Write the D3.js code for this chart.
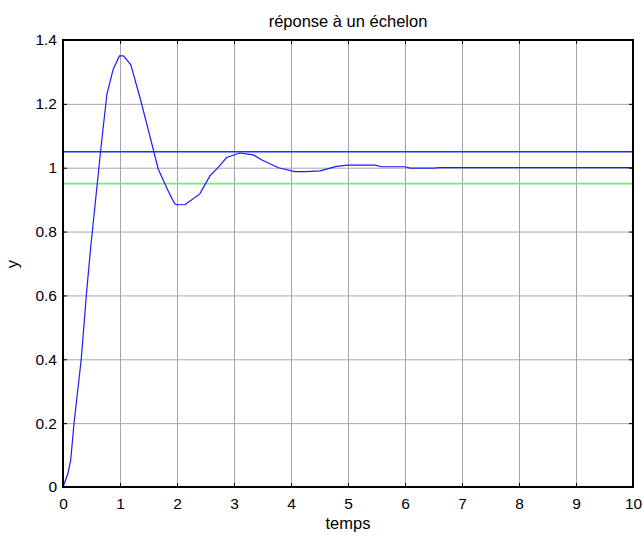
<!DOCTYPE html>
<html>
<head>
<meta charset="utf-8">
<script src="https://cdn.jsdelivr.net/npm/d3@7"></script>
<style>
  body { margin: 0; background: #fff; }
  svg text { font-family: "Liberation Sans", Arial, sans-serif; fill: #000; }
</style>
</head>
<body>
<div id="chart"></div>
<script>
// size of the page and the axes box
const width = 644;
const height = 537;
const margin = {left: 63, right: 11, top: 40, bottom: 50};

// step response
const times = [0, 0.088, 0.135, 0.193, 0.32, 0.41, 0.48, 0.66, 0.77, 0.88, 0.99, 1.06, 1.19, 1.35, 1.5, 1.67,
  1.87, 1.96, 2.0, 2.14, 2.4, 2.58, 2.72, 2.87, 3.1, 3.34, 3.49, 3.78, 4.07, 4.27, 4.51, 4.8, 5.0,
  5.47, 5.59, 6.0, 6.09, 6.5, 6.61, 10];
const response = [0, 0.043, 0.084, 0.199, 0.4, 0.602, 0.74, 1.053, 1.23, 1.308, 1.35, 1.35, 1.322, 1.22, 1.116, 0.996,
  0.918, 0.887, 0.884, 0.884, 0.918, 0.975, 1.0, 1.032, 1.046, 1.04, 1.024, 1.0, 0.9875, 0.9875, 0.99, 1.004, 1.008,
  1.008, 1.003, 1.003, 0.999, 0.999, 1.0, 1.0];

// tolerance band +/- 5%
const upperBand = 1.05;
const lowerBand = 0.95;

// tick labels
const xTicks = [0, 1, 2, 3, 4, 5, 6, 7, 8, 9, 10];
const yTicks = [0, 0.2, 0.4, 0.6, 0.8, 1, 1.2, 1.4];

const svg = d3.select("#chart")
  .append("svg")
  .attr("width", width)
  .attr("height", height);

const x = d3.scaleLinear()
  .domain([0, 10])
  .range([margin.left, width - margin.right]);

const y = d3.scaleLinear()
  .domain([0, 1.4])
  .range([height - margin.bottom, margin.top]);

const fmt = d => String(+d.toFixed(1));

// grid lines
svg.append("g")
  .attr("transform", `translate(0,${height - margin.bottom})`)
  .call(d3.axisBottom(x).tickValues(xTicks).tickSize(-(height - margin.top - margin.bottom)).tickFormat(""))
  .call(g => g.select(".domain").remove())
  .call(g => g.selectAll("line").attr("stroke", "#a6a6a6"));

svg.append("g")
  .attr("transform", `translate(${margin.left},0)`)
  .call(d3.axisLeft(y).tickValues(yTicks).tickSize(-(width - margin.left - margin.right)).tickFormat(""))
  .call(g => g.select(".domain").remove())
  .call(g => g.selectAll("line").attr("stroke", "#a6a6a6"));

// lines
svg.append("line")
  .attr("x1", x(0)).attr("x2", x(10))
  .attr("y1", y(upperBand)).attr("y2", y(upperBand))
  .attr("stroke", "#0a3cf0")
  .attr("stroke-width", 1.6);

svg.append("line")
  .attr("x1", x(0)).attr("x2", x(10))
  .attr("y1", y(lowerBand)).attr("y2", y(lowerBand))
  .attr("stroke", "#6ef06e")
  .attr("stroke-width", 1.8);

const line = d3.line()
  .x((d, i) => x(times[i]))
  .y(d => y(d));

svg.append("path")
  .datum(response)
  .attr("fill", "none")
  .attr("stroke", "#1a1aff")
  .attr("stroke-width", 1.2)
  .attr("d", line);

// axes with inward ticks on all four sides
svg.append("g")
  .attr("transform", `translate(0,${height - margin.bottom})`)
  .call(d3.axisBottom(x).tickValues(xTicks).tickSize(-4).tickPadding(11).tickFormat(fmt))
  .attr("font-size", "15.5px")
  .call(g => g.select(".domain").remove());

svg.append("g")
  .attr("transform", `translate(${margin.left},0)`)
  .call(d3.axisLeft(y).tickValues(yTicks).tickSize(-4).tickPadding(6).tickFormat(fmt))
  .attr("font-size", "15.5px")
  .call(g => g.select(".domain").remove());

svg.append("g")
  .attr("transform", `translate(0,${margin.top})`)
  .call(d3.axisTop(x).tickValues(xTicks).tickSize(-4).tickFormat(""))
  .call(g => g.select(".domain").remove());

svg.append("g")
  .attr("transform", `translate(${width - margin.right},0)`)
  .call(d3.axisRight(y).tickValues(yTicks).tickSize(-4).tickFormat(""))
  .call(g => g.select(".domain").remove());

// box
svg.append("rect")
  .attr("x", margin.left)
  .attr("y", margin.top)
  .attr("width", width - margin.left - margin.right)
  .attr("height", height - margin.top - margin.bottom)
  .attr("fill", "none")
  .attr("stroke", "#000")
  .attr("stroke-width", 2);

// labels
svg.append("text")
  .attr("x", (margin.left + width - margin.right) / 2)
  .attr("y", 27)
  .attr("text-anchor", "middle")
  .attr("font-size", "16.5px")
  .text("réponse à un échelon");

svg.append("text")
  .attr("x", (margin.left + width - margin.right) / 2)
  .attr("y", 529)
  .attr("text-anchor", "middle")
  .attr("font-size", "16.5px")
  .text("temps");

svg.append("text")
  .attr("transform", "translate(18,264) rotate(-90)")
  .attr("text-anchor", "middle")
  .attr("font-size", "16.5px")
  .text("y");
</script>
</body>
</html>
